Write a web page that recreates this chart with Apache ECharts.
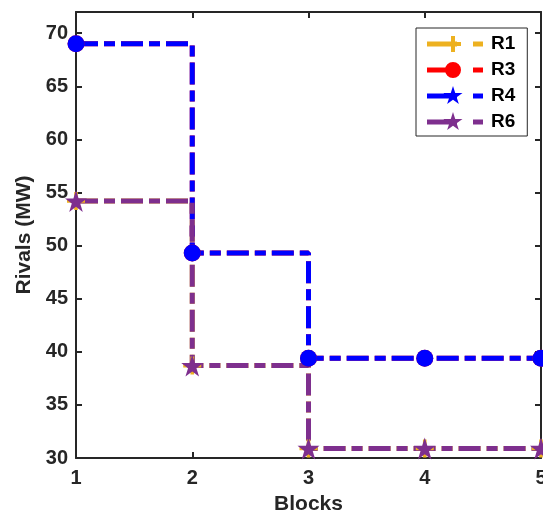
<!DOCTYPE html>
<html>
<head>
<meta charset="utf-8">
<script src="https://cdn.jsdelivr.net/npm/echarts@6/dist/echarts.min.js"></script>
<style>html,body{margin:0;padding:0;background:#fff}#c{width:543px;height:513px}</style>
</head>
<body>
<div id="c"></div>
<script>
const blocks = [1, 2, 3, 4, 5];
const seriesNames = ['R1', 'R3', 'R4', 'R6'];
const r1 = [54.2, 38.7, 30.9, 30.9, 30.9];
const r3 = [69.0, 49.3, 39.4, 39.4, 39.4];
const r4 = [69.0, 49.3, 39.4, 39.4, 39.4];
const r6 = [54.2, 38.7, 30.9, 30.9, 30.9];
const yTicks = [30, 35, 40, 45, 50, 55, 60, 65, 70];
const xTicks = [1, 2, 3, 4, 5];

const colors = ['#EDB120', '#FF0000', '#0000FF', '#7E2F8E'];
const TXT = '#262626';
const FONT = '"Liberation Sans", Arial, sans-serif';

const starPath = 'path://M50,0 L61.2,34.5 L97.6,34.5 L68.2,55.9 L79.4,90.5 L50,69.1 L20.6,90.5 L31.8,55.9 L2.4,34.5 L38.8,34.5 Z';
const plusPath = 'path://M40,0 L60,0 L60,40 L100,40 L100,60 L60,60 L60,100 L40,100 L40,60 L0,60 L0,40 L40,40 Z';

// legend icons: line + marker + short dash, bounding box 0..56 x 0..20
const bbox = 'M0,0 L0.01,0 Z M56,20 L55.99,20 Z ';
const lineParts = 'M0,7.5 L30,7.5 L30,12.5 L0,12.5 Z M46,7.5 L56,7.5 L56,12.5 L46,12.5 Z ';
const iconPlus = 'path://' + bbox + lineParts + 'M24,2 L28,2 L28,8 L34,8 L34,12 L28,12 L28,18 L24,18 L24,12 L18,12 L18,8 L24,8 Z';
const iconCircle = 'path://' + bbox + lineParts + 'M18,10 A8,8 0 1,1 34,10 A8,8 0 1,1 18,10 Z';
const iconStar = 'path://' + bbox + lineParts + 'M26,0 L28.245,6.91 L35.511,6.91 L29.633,11.18 L31.878,18.09 L26,13.82 L20.122,18.09 L22.367,11.18 L16.489,6.91 L23.755,6.91 Z';

const values = [r1, r3, r4, r6];
const symbols = [plusPath, 'circle', 'circle', starPath];
const symbolSizes = [18, 17, 17, 22];
const icons = [iconPlus, iconCircle, iconStar, iconStar];

const chart = echarts.init(document.getElementById('c'), null, {renderer: 'canvas'});

const series = seriesNames.map((name, i) => ({
  name: name,
  type: 'line',
  step: 'end',
  xAxisIndex: 0,
  yAxisIndex: 0,
  data: blocks.map((b, j) => [b, values[i][j]]),
  symbol: symbols[i],
  symbolSize: symbolSizes[i],
  showAllSymbol: true,
  clip: false,
  color: colors[i],
  itemStyle: {color: colors[i], borderWidth: 0},
  lineStyle: {color: colors[i], width: 5, type: [22, 6, 11, 6], cap: 'butt'},
  emphasis: {disabled: true},
  animation: false
}));

const axisCommon = {
  axisLine: {show: true, lineStyle: {color: TXT, width: 2}},
  axisTick: {show: true, inside: true, length: 6, lineStyle: {color: TXT, width: 2}},
  splitLine: {show: false}
};

chart.setOption({
  animation: false,
  backgroundColor: '#fff',
  grid: {left: 76, right: 2, top: 12, bottom: 55, containLabel: false, outerBoundsMode: 'none'},
  legend: {
    orient: 'vertical',
    left: 416,
    top: 28,
    padding: [6, 12, 4, 11],
    itemGap: 6,
    itemWidth: 56,
    itemHeight: 20,
    selectedMode: false,
    backgroundColor: '#fff',
    borderColor: TXT,
    borderWidth: 1,
    textStyle: {fontFamily: FONT, fontWeight: 'bold', fontSize: 19, color: '#000', padding: [0, 0, 0, 3]},
    data: seriesNames.map((n, i) => ({name: n, icon: icons[i], itemStyle: {color: colors[i]}}))
  },
  xAxis: [
    Object.assign({
      type: 'value', min: 1, max: 5, interval: 1, position: 'bottom',
      name: 'Blocks', nameLocation: 'middle', nameGap: 36,
      nameTextStyle: {fontFamily: FONT, fontWeight: 'bold', fontSize: 21, color: TXT},
      axisLabel: {fontFamily: FONT, fontWeight: 'bold', fontSize: 20, color: TXT, margin: 10,
        formatter: v => xTicks.indexOf(v) >= 0 ? String(v) : ''}
    }, axisCommon),
    Object.assign({
      type: 'value', min: 1, max: 5, interval: 1, position: 'top',
      axisLabel: {show: false}
    }, axisCommon)
  ],
  yAxis: [
    Object.assign({
      type: 'value', min: 30, max: 72, interval: 5, position: 'left',
      name: 'Rivals (MW)', nameLocation: 'middle', nameGap: 41,
      nameTextStyle: {fontFamily: FONT, fontWeight: 'bold', fontSize: 21, color: TXT},
      axisLabel: {fontFamily: FONT, fontWeight: 'bold', fontSize: 20, color: TXT, margin: 8,
        showMaxLabel: false,
        formatter: v => yTicks.indexOf(v) >= 0 ? String(v) : ''}
    }, axisCommon),
    Object.assign({
      type: 'value', min: 30, max: 72, interval: 5, position: 'right',
      axisLabel: {show: false}
    }, axisCommon)
  ],
  series: series
});
</script>
</body>
</html>
